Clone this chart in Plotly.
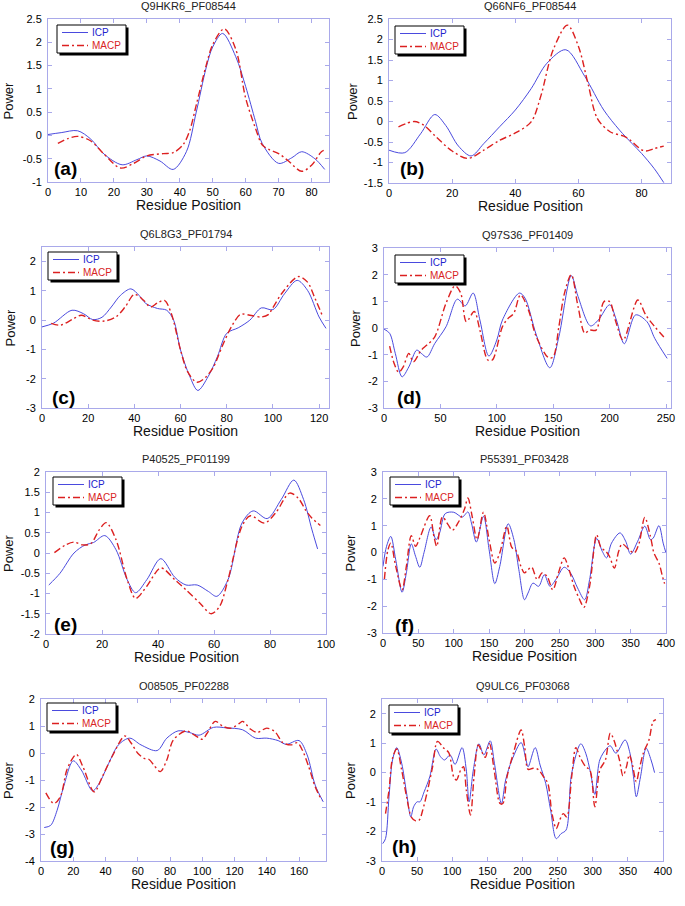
import plotly.graph_objects as go

# ---------------- data ----------------
titles = ["Q9HKR6_PF08544", "Q66NF6_PF08544", "Q6L8G3_PF01794", "Q97S36_PF01409",
          "P40525_PF01199", "P55391_PF03428", "O08505_PF02288", "Q9ULC6_PF03068"]
letters = ["(a)", "(b)", "(c)", "(d)", "(e)", "(f)", "(g)", "(h)"]
series_names = ["ICP", "MACP"]

a_icp_x = [0, 4, 9, 13, 17, 22.5, 27, 30, 34, 38, 42, 45, 48, 50, 53, 57, 60, 63, 65, 70, 74, 77, 81, 84]
a_icp_y = [0.02, 0.06, 0.1, -0.08, -0.4, -0.63, -0.52, -0.44, -0.55, -0.73, -0.35, 0.5, 1.45, 1.9, 2.19, 1.69, 1.05, 0.3, -0.17, -0.6, -0.48, -0.35, -0.5, -0.73]
a_macp_x = [3, 6, 9, 13, 17, 22, 26, 30, 35, 38, 41, 43, 45, 48, 50, 53.5, 57, 60, 63, 65, 67, 70, 73, 77, 80, 83, 84.5]
a_macp_y = [-0.17, -0.07, -0.02, -0.12, -0.4, -0.7, -0.6, -0.44, -0.39, -0.37, -0.2, 0.1, 0.65, 1.5, 1.95, 2.29, 1.85, 0.8, 0.15, -0.2, -0.3, -0.39, -0.55, -0.77, -0.64, -0.35, -0.3]

b_icp_x = [0, 5, 10, 14.5, 18, 22, 26, 30, 35, 40, 45, 50, 56, 62, 68, 73, 77, 80, 84, 87]
b_icp_y = [-0.7, -0.76, -0.3, 0.17, -0.1, -0.6, -0.84, -0.54, -0.13, 0.28, 0.8, 1.42, 1.75, 1.1, 0.28, -0.21, -0.54, -0.78, -1.15, -1.49]
b_macp_x = [3, 8, 11, 15, 20, 25, 30, 35, 40, 45, 48, 52, 56.5, 60, 63, 66, 70, 75, 80, 81.5, 84, 87]
b_macp_y = [-0.13, 0.0, -0.09, -0.38, -0.72, -0.9, -0.7, -0.46, -0.28, -0.01, 0.6, 1.75, 2.35, 1.83, 0.93, 0.07, -0.25, -0.38, -0.69, -0.72, -0.66, -0.6]

c_icp_x = [0, 5, 13, 18, 22, 26, 30, 34, 38.5, 42, 45, 50, 54, 57, 60, 64, 67.5, 72, 76, 80, 85, 90, 95, 100, 105, 110.5, 115, 120, 123]
c_icp_y = [-0.23, -0.1, 0.34, 0.22, 0.02, 0.1, 0.45, 0.85, 1.07, 0.85, 0.57, 0.4, 0.34, 0.0, -1.02, -1.92, -2.4, -1.92, -1.24, -0.45, -0.26, 0.0, 0.42, 0.36, 0.9, 1.36, 1.02, 0.11, -0.28]
c_macp_x = [4, 8, 13, 17, 22, 27, 32, 36, 40, 44, 47, 50, 53, 56, 60, 63, 67, 70, 74, 78, 82, 86, 90, 95, 98, 100, 104, 111, 115, 118, 121.5]
c_macp_y = [-0.11, -0.17, 0.02, 0.17, 0.0, -0.03, 0.11, 0.45, 0.88, 0.68, 0.45, 0.59, 0.68, 0.23, -1.02, -1.75, -2.12, -2.01, -1.64, -0.9, -0.23, 0.2, 0.17, 0.11, 0.19, 0.43, 0.93, 1.49, 1.3, 0.79, 0.14]

d_icp_x = [0, 5, 10, 16, 22, 29, 33, 38, 45, 55, 65, 72, 79, 85, 93, 100, 105, 120, 125, 135, 147, 155, 166, 172, 183, 190, 200, 206, 213, 223, 233, 240, 251]
d_icp_y = [-0.04, -0.2, -0.95, -1.83, -1.46, -0.83, -0.95, -1.09, -0.58, 0.05, 1.08, 0.83, 1.31, 0.3, -1.05, -0.45, 0.3, 1.31, 1.12, -0.26, -1.49, -0.33, 1.96, 1.18, 0.08, 0.3, 0.87, 0.3, -0.59, 0.49, 0.24, -0.39, -1.14]
d_macp_x = [5, 9, 13, 17, 22, 26, 33, 38, 45, 55, 63, 68, 73, 80, 85, 92, 96, 105, 110, 115, 121, 128, 135, 146, 150, 155, 160, 166, 172, 178, 182, 188, 195, 200, 205, 212, 225, 232, 240, 250]
d_macp_y = [-0.68, -1.33, -1.66, -1.46, -0.95, -1.27, -0.83, -0.64, -0.33, 0.93, 1.58, 1.31, 0.24, 0.62, -0.08, -1.2, -1.2, 0.05, 0.36, 0.55, 1.24, 0.68, -0.33, -1.12, -1.08, 0.05, 1.31, 2.0, 0.8, -0.2, -0.08, -0.08, 0.99, 0.99, 0.3, -0.45, 1.05, 0.49, 0.05, -0.43]

e_icp_x = [1, 5, 10, 14, 17, 21, 25, 29, 32, 36, 41, 46, 50, 54, 58, 61, 65, 70, 74, 79, 84, 88.5, 92, 95, 97]
e_icp_y = [-0.79, -0.5, 0.0, 0.2, 0.26, 0.43, 0.08, -0.66, -0.98, -0.66, -0.14, -0.6, -0.79, -0.79, -0.95, -1.07, -0.66, 0.74, 1.04, 0.85, 1.32, 1.8, 1.32, 0.57, 0.1]
e_macp_x = [3, 7, 10, 13, 16, 19, 21.5, 25, 29, 32, 36, 41, 46, 50, 55, 59, 62, 65, 70, 73, 78, 82, 87, 90, 93, 95, 98]
e_macp_y = [0.01, 0.2, 0.27, 0.2, 0.23, 0.57, 0.75, 0.33, -0.66, -1.12, -0.82, -0.37, -0.66, -0.91, -1.24, -1.5, -1.32, -0.66, 0.66, 0.92, 0.74, 0.99, 1.48, 1.36, 1.03, 0.86, 0.68]

f_icp_x = [0, 5, 11, 18, 27, 33, 40, 46, 52, 58, 68, 75, 80, 88, 100, 112, 120, 125, 132, 142, 150, 158, 165, 177, 185, 192, 200, 205, 212, 220, 228, 236, 245, 256, 265, 275, 285, 292, 302, 310, 316, 323, 335, 343, 350, 360, 370, 378, 382, 390, 396, 400]
f_icp_y = [-0.52, 0.23, 0.6, -0.27, -1.48, -0.76, 0.32, -0.14, -0.55, 0.0, 0.95, 0.48, 0.73, 1.45, 1.5, 1.32, 1.51, 1.1, 0.39, 1.35, 0.1, -1.16, -0.52, 1.07, 0.48, -0.64, -1.76, -1.51, -1.14, -1.26, -0.83, -1.26, -0.98, -0.55, -0.76, -1.32, -1.76, -1.01, 0.52, 0.04, -0.2, 0.35, 0.73, 0.42, -0.06, 0.42, 0.98, 0.48, 0.54, 1.0, 0.35, -0.02]
f_macp_x = [2, 7, 11, 18, 27, 33, 40, 46, 52, 66, 72, 76, 84, 92, 98, 106, 115, 120, 126, 133, 142, 150, 158, 165, 175, 182, 188, 195, 200, 205, 210, 218, 225, 232, 240, 248, 256, 263, 270, 278, 284, 292, 302, 308, 315, 320, 327, 333, 338, 348, 355, 362, 370, 378, 383, 390, 395, 398]
f_macp_y = [-0.99, 0.1, 0.35, -0.52, -1.39, -0.52, 0.63, 0.23, 0.54, 1.37, 0.6, 0.23, 1.32, 1.04, 0.83, 1.1, 1.6, 2.03, 1.35, 0.48, 1.5, 0.48, -0.39, -0.02, 0.98, 0.19, 0.07, -0.52, -0.76, -0.64, -0.54, -1.01, -0.76, -0.89, -1.39, -0.76, -0.2, -0.64, -1.26, -1.76, -2.04, -1.26, 0.66, 0.19, 0.04, -0.14, -0.58, 0.04, 0.32, 0.1, -0.02, 0.35, 1.31, 0.6, -0.02, -0.39, -0.89, -1.16]

g_icp_x = [2, 6, 10, 14, 20, 25, 32, 36, 42, 48, 55, 62, 72, 78, 85, 92, 98, 107, 115, 125, 133, 140, 147, 152, 160, 165, 170, 175]
g_icp_y = [-2.76, -2.68, -2.12, -1.25, -0.29, -0.63, -1.4, -1.13, -0.38, 0.3, 0.55, 0.3, 0.09, 0.55, 0.82, 0.76, 0.66, 0.95, 0.93, 0.86, 0.55, 0.55, 0.46, 0.32, 0.46, -0.07, -1.19, -1.81]
g_macp_x = [3, 8, 12, 16, 20, 22, 26, 33, 38, 44, 52, 56, 60, 64, 67, 70, 74, 78, 82, 90, 95, 100, 103, 108, 113, 118, 123, 125, 130, 134, 140, 145, 150, 155, 159, 162, 166, 170, 174]
g_macp_y = [-1.48, -1.87, -1.62, -0.63, -0.16, -0.05, -0.51, -1.44, -0.88, -0.14, 0.63, 0.36, -0.01, -0.2, -0.24, -0.45, -0.69, -0.26, 0.48, 0.82, 0.67, 0.51, 0.73, 1.17, 0.98, 0.92, 1.1, 1.17, 0.88, 0.76, 0.92, 0.79, 0.38, 0.3, 0.38, 0.11, -0.51, -1.25, -1.75]

h_icp_x = [1, 5, 10, 15, 21, 28, 35, 41, 45, 50, 54, 60, 68, 77, 83, 89, 97, 104, 114, 120, 124, 130, 138, 145, 154, 160, 170, 176, 185, 198, 205, 208, 218, 225, 233, 240, 248, 255, 262, 270, 283, 290, 297, 303, 310, 320, 325, 333, 346, 353, 358, 362, 368, 376, 383, 388]
h_icp_y = [-2.41, -2.24, -0.82, 0.43, 0.85, 0.32, -0.7, -1.5, -1.16, -0.99, -0.99, -0.65, -0.14, 0.8, 0.55, 0.43, 0.6, 0.28, 0.85, 0.09, -0.99, 0.09, 0.98, 0.6, 1.08, 0.32, -1.05, -0.25, 0.43, 1.02, 0.43, 0.2, 0.85, 0.26, -0.36, -1.27, -2.24, -2.07, -1.95, -0.02, 0.98, 0.66, -0.02, -0.74, 0.43, 0.83, 0.91, 0.66, 1.11, 0.66, -0.14, -0.82, -0.14, 0.83, 0.43, 0.0]
h_macp_x = [5, 10, 15, 21, 28, 35, 42, 48, 53, 58, 65, 72, 79, 88, 95, 102, 106, 112, 116, 120, 126, 131, 137, 143, 147, 153, 160, 168, 172, 178, 187, 198, 203, 208, 215, 222, 230, 236, 242, 248, 253, 258, 263, 270, 276, 282, 290, 296, 303, 310, 318, 325, 330, 338, 343, 348, 352, 356, 362, 366, 372, 380, 386, 390]
h_macp_y = [-1.39, -0.59, 0.49, 0.8, 0.09, -0.82, -1.52, -1.64, -1.61, -1.27, -0.59, 0.2, 1.06, 0.83, 0.68, -0.14, -0.25, 0.09, 0.2, -0.59, -1.44, -0.14, 0.94, 0.66, 0.52, 0.98, 0.03, -1.05, -1.05, -0.14, 0.66, 1.45, 0.89, 0.11, 0.15, 0.11, -0.14, -0.36, -1.39, -1.9, -1.61, -1.39, -1.5, -0.14, 0.85, 0.52, 0.2, 0.09, -1.16, 0.09, 0.43, 1.34, 1.11, 0.43, -0.11, 0.2, 0.6, 0.32, -0.31, 0.09, 0.66, 1.11, 1.74, 1.8]

x_ranges = [[0, 85.3], [0, 89.3], [0, 124.3], [0, 254.4], [0, 100], [0, 400], [0, 176.7], [0, 400]]
x_ticks = [[0, 10, 20, 30, 40, 50, 60, 70, 80], [0, 20, 40, 60, 80], [0, 20, 40, 60, 80, 100, 120],
           [0, 50, 100, 150, 200, 250], [0, 20, 40, 60, 80, 100], [0, 50, 100, 150, 200, 250, 300, 350, 400],
           [0, 20, 40, 60, 80, 100, 120, 140, 160], [0, 50, 100, 150, 200, 250, 300, 350, 400]]
y_ranges = [[-1, 2.5], [-1.5, 2.5], [-3, 2.5], [-3, 3], [-2, 2], [-3, 3], [-4, 2], [-3, 2.5]]
y_ticks = [[-1, -0.5, 0, 0.5, 1, 1.5, 2, 2.5], [-1.5, -1, -0.5, 0, 0.5, 1, 1.5, 2, 2.5],
           [-3, -2, -1, 0, 1, 2], [-3, -2, -1, 0, 1, 2, 3], [-2, -1.5, -1, -0.5, 0, 0.5, 1, 1.5, 2],
           [-3, -2, -1, 0, 1, 2, 3], [-4, -3, -2, -1, 0, 1, 2], [-3, -2, -1, 0, 1, 2]]

icp_series = [(a_icp_x, a_icp_y), (b_icp_x, b_icp_y), (c_icp_x, c_icp_y), (d_icp_x, d_icp_y),
              (e_icp_x, e_icp_y), (f_icp_x, f_icp_y), (g_icp_x, g_icp_y), (h_icp_x, h_icp_y)]
macp_series = [(a_macp_x, a_macp_y), (b_macp_x, b_macp_y), (c_macp_x, c_macp_y), (d_macp_x, d_macp_y),
               (e_macp_x, e_macp_y), (f_macp_x, f_macp_y), (g_macp_x, g_macp_y), (h_macp_x, h_macp_y)]

# ---------------- layout geometry (pixels) ----------------
W, H = 685, 906
boxes = [(48, 19, 329, 182), (389, 19, 671, 183), (42, 247, 329, 408), (384, 248, 671, 408),
         (46, 472, 326, 634), (383, 472, 666, 633), (41, 699, 326, 861), (382, 699, 663, 861)]
power_shift = [-40, -37, -32, -29, -38, -33, -33, -32]
letter_off = [(4, -14), (9, -14), (8, -11), (11, -11), (6, -10), (10, -8), (7, -14), (8, -15)]
legend_off = [(9, 6), (6, 7), (6, 5), (11, 7), (7, 5), (7, 5), (6, 4), (7, 6)]

FONT = "Arial, Liberation Sans, Helvetica, sans-serif"
FRAME = "#a9a9ea"
BLUE = "#4a4ade"
RED = "#dc2020"
MACP_DASH = "7px,3px,2px,3px"
ICP_TXT = "#2222cc"
MACP_TXT = "#d82424"


def px(x):
    return x / W


def py(y):
    return 1 - y / H


fig = go.Figure()
layout = dict(width=W, height=H, margin=dict(l=0, r=0, t=0, b=0, pad=0),
              paper_bgcolor="white", plot_bgcolor="white", showlegend=False,
              font=dict(family=FONT, size=11, color="black"))
annotations = []
shapes = []

for i in range(8):
    n = "" if i == 0 else str(i + 1)
    x0, y0, x1, y1 = boxes[i]
    common = dict(showline=True, mirror="ticks", linecolor=FRAME, linewidth=1,
                  ticks="inside", ticklen=4, tickcolor=FRAME, tickwidth=1,
                  showgrid=False, zeroline=False, fixedrange=True, automargin=False,
                  tickfont=dict(family=FONT, size=11, color="black"))
    layout["xaxis" + n] = dict(common, domain=[px(x0), px(x1)], anchor="y" + n,
                               range=x_ranges[i], tickvals=x_ticks[i],
                               ticktext=[f"{v:g}" for v in x_ticks[i]])
    layout["yaxis" + n] = dict(common, domain=[py(y1), py(y0)], anchor="x" + n,
                               range=y_ranges[i], tickvals=y_ticks[i],
                               ticktext=[f"{v:g}" for v in y_ticks[i]],
                               ticklabelstandoff=3)

    ix, iy = icp_series[i]
    mx, my = macp_series[i]
    fig.add_trace(go.Scatter(x=ix, y=iy, mode="lines", name=series_names[0],
                             line=dict(color=BLUE, width=1, shape="spline", smoothing=0.9),
                             xaxis="x" + n, yaxis="y" + n))
    fig.add_trace(go.Scatter(x=mx, y=my, mode="lines", name=series_names[1],
                             line=dict(color=RED, width=1.4, dash=MACP_DASH,
                                       shape="spline", smoothing=0.9),
                             xaxis="x" + n, yaxis="y" + n))

    cx = (x0 + x1) / 2
    cy = (y0 + y1) / 2
    # title
    annotations.append(dict(x=px(cx), y=py(y0 - 13), xref="paper", yref="paper",
                            text=titles[i], showarrow=False, xanchor="center", yanchor="middle",
                            font=dict(family=FONT, size=11, color="#222222")))
    # x-axis title
    annotations.append(dict(x=px(cx), y=py(y1 + 23), xref="paper", yref="paper",
                            text="Residue Position", showarrow=False, xanchor="center",
                            yanchor="middle", font=dict(family=FONT, size=14, color="#111111")))
    # y-axis title
    annotations.append(dict(x=px(x0 + power_shift[i]), y=py(cy), xref="paper", yref="paper",
                            text="Power", showarrow=False, textangle=-90, xanchor="center",
                            yanchor="middle", font=dict(family=FONT, size=13, color="#111111")))
    # panel letter
    lx, ly = letter_off[i]
    annotations.append(dict(x=px(x0 + lx), y=py(y1 + ly), xref="paper", yref="paper",
                            text="<b>" + letters[i] + "</b>", showarrow=False, xanchor="left",
                            yanchor="middle", font=dict(family=FONT, size=19, color="black")))
    # legend box with shadow
    ox, oy = legend_off[i]
    bx0, by0 = x0 + ox, y0 + oy
    bx1, by1 = bx0 + 69, by0 + 28
    shapes.append(dict(type="rect", xref="paper", yref="paper",
                       x0=px(bx0 + 2.5), x1=px(bx1 + 2.5), y0=py(by1 + 2.5), y1=py(by0 + 2.5),
                       line=dict(width=0), fillcolor="black", layer="above"))
    shapes.append(dict(type="rect", xref="paper", yref="paper",
                       x0=px(bx0), x1=px(bx1), y0=py(by1), y1=py(by0),
                       line=dict(width=1, color="black"), fillcolor="white", layer="above"))
    shapes.append(dict(type="line", xref="paper", yref="paper",
                       x0=px(bx0 + 5), x1=px(bx0 + 31), y0=py(by0 + 7.5), y1=py(by0 + 7.5),
                       line=dict(width=1, color=BLUE), layer="above"))
    shapes.append(dict(type="line", xref="paper", yref="paper",
                       x0=px(bx0 + 5), x1=px(bx0 + 31), y0=py(by0 + 20.5), y1=py(by0 + 20.5),
                       line=dict(width=1.4, color=RED, dash=MACP_DASH), layer="above"))
    legend_text = (f"<span style='color:{ICP_TXT}'>{series_names[0]}</span><br>"
                   f"<span style='color:{MACP_TXT}'>{series_names[1]}</span>")
    annotations.append(dict(x=px(bx0 + 34), y=py(by0 + 14), xref="paper", yref="paper",
                            text=legend_text, showarrow=False, xanchor="left", yanchor="middle",
                            align="left", borderpad=0,
                            font=dict(family=FONT, size=10, color=ICP_TXT)))

layout["annotations"] = annotations
layout["shapes"] = shapes
fig.update_layout(**layout)
fig.write_html("out.html", config={"displayModeBar": False},
               post_script="document.body.style.margin='0px';document.body.style.padding='0px';")
